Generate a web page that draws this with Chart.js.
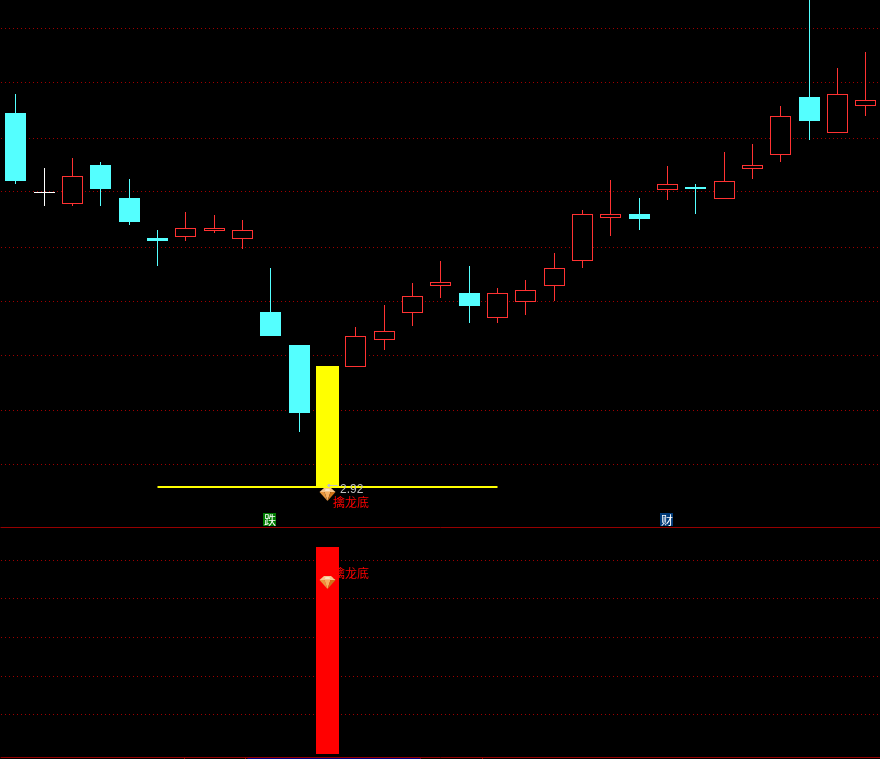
<!DOCTYPE html>
<html>
<head>
<meta charset="utf-8">
<style>
html,body{margin:0;padding:0;background:#000;overflow:hidden}
canvas{display:block;background:#000}
</style>
<script src="https://cdn.jsdelivr.net/npm/chart.js@4"></script>
</head>
<body>
<canvas id="c" width="880" height="759"></canvas>
<script>
// ----- price pane (null at index 11: that day is the yellow signal bar) -----
const highs = [3.9025,3.7175,3.7425,3.7325,3.69,3.5625,3.6075,3.60,3.5875,3.4675,3.275,null,3.32,3.375,3.43,3.485,3.4725,3.4175,3.4375,3.505,3.6125,3.6875,3.6425,3.7225,3.6775,3.7575,3.7775,3.8725,4.1375,3.9675,4.0075];
const lows  = [3.6775,3.6225,3.6225,3.6225,3.575,3.4725,3.535,3.555,3.515,3.2975,3.0575,null,3.22,3.2625,3.3225,3.3925,3.33,3.33,3.35,3.385,3.4675,3.5475,3.5625,3.6375,3.6025,3.64,3.69,3.7325,3.7875,3.805,3.8475];
const opens = [3.855,3.6575,3.6275,3.725,3.6425,3.5425,3.545,3.56,3.54,3.3575,3.275,null,3.22,3.2875,3.355,3.4225,3.405,3.3425,3.3825,3.4225,3.485,3.5925,3.6025,3.6625,3.67,3.64,3.715,3.75,3.895,3.805,3.8725];
const closes= [3.685,3.655,3.6975,3.665,3.5825,3.535,3.5675,3.5675,3.5625,3.2975,3.105,null,3.2975,3.31,3.3975,3.4325,3.3725,3.405,3.4125,3.4675,3.6025,3.6025,3.59,3.6775,3.665,3.685,3.725,3.8475,3.835,3.9025,3.8875];
const dojiIndex = [1];
const signalIndex = [11];
const signalLow = [2.92];
const signalHigh = [3.2225];
const supportPrice = [2.92];
const supportSpan = [5, 17];
const diamondPrice = [2.90125];
const priceGrid = [4.065,3.93,3.7925,3.6575,3.52,3.385,3.25,3.1125,2.975];
const priceRange = [2.82, 4.1375];

// ----- indicator pane -----
const indicatorLow = [0];
const indicatorHigh = [207];
const diamondIndicator = [171.5];
const indicatorGrid = [194,156,117,78,40];
const indicatorRange = [-5, 227];
const dividerLevel = [226.5];
const baseLevel = [-3.5];
const footLevel = [-4.5];
const footSpan = [8.164, 14.27];
const footMarks = [5.94, 8.1, 14.27, 16.46];

// ----- text -----
const priceLabel = "2.92";
const signalText = "擒龙底";
const badges = [
  {index: 9, text: "跌", fill: "#007A00"},
  {index: 23, text: "财", fill: "#003A78"}
];
const badgeLevel = 2.83875;
const signalTextLevels = [2.8825, 181];

const xRange = [-0.55412, 30.5047];
const RED = "#FF3232", CYAN = "#54FFFF", WHITE = "#FFFFFF";

// index scale that lands every candle on a whole pixel column
class CandleIndexScale extends Chart.LinearScale {
  getPixelForValue(v) { return Math.floor(super.getPixelForValue(v)) + 0.5; }
}
CandleIndexScale.id = "candleIndex";
CandleIndexScale.defaults = Chart.LinearScale.defaults;
Chart.register(CandleIndexScale);

const idx = highs.map((_, i) => i);
const live = idx.filter(i => highs[i] !== null);
const colorOf = i => dojiIndex.includes(i) ? WHITE : (closes[i] > opens[i] ? RED : CYAN);
const isHollow = i => colorOf(i) === RED;

function makeDiamond() {
  const c = document.createElement("canvas");
  c.width = 17; c.height = 13;
  const g = c.getContext("2d");
  const poly = (pts, col) => {
    g.fillStyle = col; g.beginPath();
    pts.forEach((p, k) => k ? g.lineTo(p[0], p[1]) : g.moveTo(p[0], p[1]));
    g.closePath(); g.fill();
  };
  poly([[5,0],[12,0],[16.5,4],[0.5,4]], "#F6C48A");
  poly([[0.5,4],[5.5,4],[8.5,13]], "#E8963C");
  poly([[5.5,4],[11.5,4],[8.5,13]], "#F7B060");
  poly([[11.5,4],[16.5,4],[8.5,13]], "#CF7218");
  poly([[6.5,1],[10.5,1],[11,3],[6,3]], "#FBE3C0");
  return c;
}
const diamond = makeDiamond();

const annotate = {
  id: "annotate",
  afterDatasetsDraw(chart) {
    const {ctx, scales: {x, y, y2}} = chart;
    ctx.save();
    const sx = x.getPixelForValue(signalIndex[0]);
    const px = Math.floor(sx);
    const py = Math.round(y.getPixelForValue(supportPrice[0]));
    // arrow and price label
    ctx.fillStyle = "#C0C0C0";
    ctx.fillRect(px, py - 2, 11, 1);
    ctx.fillRect(px + 1, py - 3, 2, 1);
    ctx.fillRect(px + 1, py - 1, 2, 1);
    ctx.font = '12px "Liberation Sans"';
    ctx.textAlign = "left"; ctx.textBaseline = "alphabetic";
    ctx.fillText(priceLabel, px + 13, py + 6);
    // signal text in both panes
    ctx.fillStyle = "#FF0000";
    ctx.font = '12px "Noto Sans CJK SC"';
    ctx.textBaseline = "middle";
    ctx.fillText(signalText, px + 6, y.getPixelForValue(signalTextLevels[0]));
    ctx.fillText(signalText, px + 6, y2.getPixelForValue(signalTextLevels[1]));
    // badges
    const by = y.getPixelForValue(badgeLevel);
    ctx.textAlign = "center";
    badges.forEach(b => {
      const bx = x.getPixelForValue(b.index);
      ctx.fillStyle = b.fill;
      ctx.fillRect(Math.floor(bx) - 7, Math.floor(by) - 6, 13, 13);
      ctx.fillStyle = "#FFFFFF";
      ctx.fillText(b.text, bx - 0.5, by + 0.5);
    });
    ctx.restore();
  }
};

const barBase = {type: "bar", grouped: false, inflateAmount: 0, borderSkipped: false};
const lineBase = {type: "line", pointRadius: 0, borderWidth: 1, fill: false, tension: 0};
const hLine = (level, span, axis, color, width, order) => ({
  ...lineBase, yAxisID: axis, order, borderColor: color, borderWidth: width,
  data: span.map(v => ({x: v, y: level}))
});

new Chart(document.getElementById("c"), {
  type: "bar",
  data: {datasets: [
    {...barBase, order: 9, yAxisID: "y", barThickness: 1,
      data: live.map(i => ({x: i, y: [lows[i], highs[i]]})),
      backgroundColor: live.map(colorOf), borderWidth: 0},
    {...barBase, order: 8, yAxisID: "y", barThickness: 21,
      data: live.map(i => ({x: i, y: [Math.min(opens[i], closes[i]), Math.max(opens[i], closes[i])]})),
      backgroundColor: live.map(i => isHollow(i) ? "#000000" : colorOf(i)),
      borderColor: live.map(colorOf),
      borderWidth: live.map(i => isHollow(i) ? 1 : 0)},
    {...barBase, order: 7, yAxisID: "y", barThickness: 23,
      data: signalIndex.map((v, k) => ({x: v, y: [signalLow[k], signalHigh[k]]})),
      backgroundColor: "#FFFF00", borderWidth: 0},
    {...barBase, order: 7, yAxisID: "y2", barThickness: 23,
      data: signalIndex.map((v, k) => ({x: v, y: [indicatorLow[k], indicatorHigh[k]]})),
      backgroundColor: "#FF0000", borderWidth: 0},
    {...barBase, order: 7, yAxisID: "y2", barThickness: 1,
      data: footMarks.map(v => ({x: v, y: [footLevel[0] - 0.5, footLevel[0] + 0.5]})),
      backgroundColor: "#A00000", borderWidth: 0},
    hLine(supportPrice[0], supportSpan, "y", "#FFFF00", 2, 6),
    hLine(dividerLevel[0], xRange, "y2", "#960000", 1, 6),
    hLine(baseLevel[0], xRange, "y2", "#960000", 1, 6),
    hLine(footLevel[0], footSpan, "y2", "#000080", 1, 6),
    {type: "line", order: 1, yAxisID: "y", showLine: false, pointStyle: diamond, pointRadius: 8,
      data: signalIndex.map((v, k) => ({x: v, y: diamondPrice[k]}))},
    {type: "line", order: 1, yAxisID: "y2", showLine: false, pointStyle: diamond, pointRadius: 8,
      data: signalIndex.map((v, k) => ({x: v, y: diamondIndicator[k]}))}
  ]},
  options: {
    responsive: false,
    animation: false,
    events: [],
    layout: {padding: 0, autoPadding: false},
    plugins: {legend: {display: false}, tooltip: {enabled: false}, title: {display: false}},
    scales: {
      x: {type: "candleIndex", display: false, offset: false, min: xRange[0], max: xRange[1]},
      y: {
        type: "linear", position: "left", stack: "panes", stackWeight: 527, weight: 2,
        min: priceRange[0], max: priceRange[1],
        afterBuildTicks: s => { s.ticks = priceGrid.map(value => ({value})); },
        ticks: {display: false},
        grid: {color: "#A00000", lineWidth: 1, drawTicks: false},
        border: {display: false, dash: [1, 3], dashOffset: 3}
      },
      y2: {
        type: "linear", position: "left", stack: "panes", stackWeight: 232, weight: 1,
        min: indicatorRange[0], max: indicatorRange[1],
        afterBuildTicks: s => { s.ticks = indicatorGrid.map(value => ({value})); },
        ticks: {display: false},
        grid: {color: "#A00000", lineWidth: 1, drawTicks: false},
        border: {display: false, dash: [1, 3], dashOffset: 3}
      }
    }
  },
  plugins: [annotate]
});
</script>
</body>
</html>
